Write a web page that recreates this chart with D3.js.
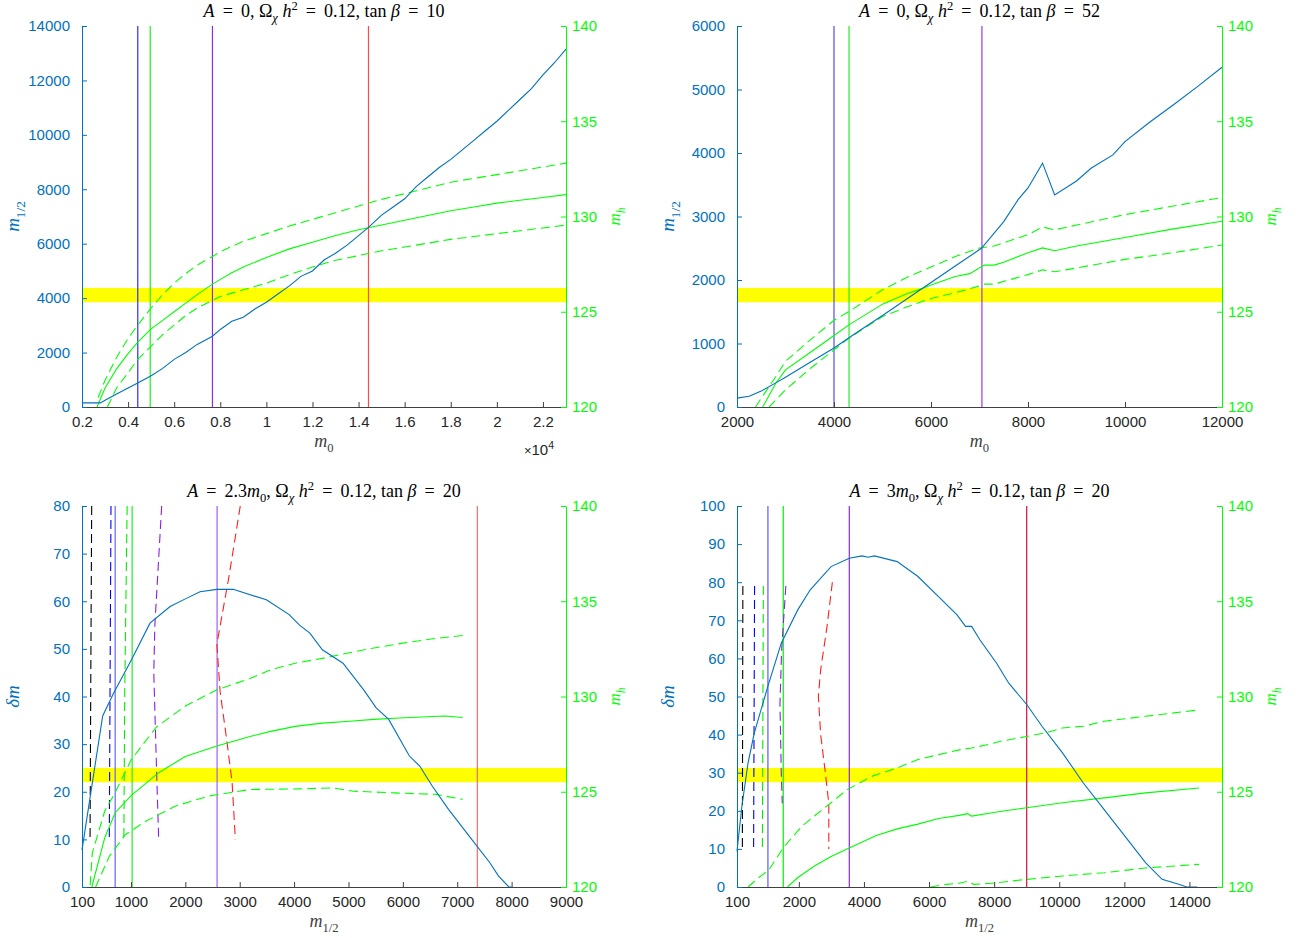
<!DOCTYPE html>
<html>
<head>
<meta charset="utf-8">
<script src="https://cdn.jsdelivr.net/npm/d3@7"></script>
<style>
  body { margin: 0; background: #fff; }
  text { font-family: "Liberation Sans", Arial, sans-serif; }
</style>
</head>
<body>
<svg id="chart" width="1298" height="938"></svg>
<script>
// ---- panel A: A=0, tan b = 10  (x = m0, left = m1/2, right = mh)
const aM12 = [[2000,150],[2800,150],[3000,250],[3500,480],[4000,700],[4420,880],[5000,1150],[5500,1420],[6000,1750],[6500,2000],[7000,2300],[7660,2600],[8000,2850],[8500,3150],[9000,3300],[9500,3600],[10000,3850],[10500,4150],[11000,4450],[11500,4800],[12000,5000],[12500,5400],[13000,5650],[13500,5950],[14000,6300],[14430,6600],[15000,7050],[15500,7350],[16000,7650],[16500,8100],[17000,8450],[17500,8800],[18000,9100],[18500,9450],[19000,9800],[19500,10150],[20000,10500],[20500,10900],[21000,11300],[21500,11700],[22000,12200],[22500,12650],[23000,13150]];
const aMh = [[2650,120],[3000,121.0],[3500,122.0],[4000,122.8],[4420,123.4],[5000,124.1],[5500,124.55],[6000,125.0],[6500,125.45],[7000,125.9],[7660,126.45],[8000,126.7],[8500,127.05],[9000,127.35],[10000,127.85],[11000,128.3],[12000,128.65],[13000,129.0],[14000,129.3],[15000,129.55],[16000,129.8],[17000,130.05],[18000,130.3],[19000,130.5],[20000,130.7],[21000,130.85],[22000,131.0],[23000,131.15]];
const aMhUp = [[2700,120.5],[3000,121.4],[3500,122.6],[4000,123.6],[4420,124.3],[5000,125.2],[5500,125.9],[6000,126.5],[6500,127.0],[7000,127.45],[7660,127.9],[8000,128.15],[9000,128.7],[10000,129.1],[11000,129.5],[12000,129.85],[13000,130.2],[14000,130.55],[15000,130.9],[16000,131.2],[17000,131.5],[18000,131.8],[19000,132.0],[20000,132.2],[21000,132.4],[22000,132.6],[23000,132.8]];
const aMhLo = [[3100,120],[3500,121.0],[4000,121.8],[4420,122.5],[5000,123.2],[5500,123.8],[6000,124.3],[6500,124.8],[7000,125.2],[7660,125.6],[8000,125.8],[9000,126.15],[10000,126.5],[11000,126.95],[12000,127.35],[13000,127.7],[14000,127.95],[15000,128.2],[16000,128.4],[17000,128.6],[18000,128.8],[19000,128.95],[20000,129.1],[21000,129.25],[22000,129.4],[23000,129.55]];
const aVerts = [4420, 4960, 7660, 14430];
const aXTicks = [2000,4000,6000,8000,10000,12000,14000,16000,18000,20000,22000];
const aYTicks = [0,2000,4000,6000,8000,10000,12000,14000];

// ---- panel B: A=0, tan b = 52
const bM12 = [[2000,140],[2250,170],[2500,250],[2800,380],[3000,470],[3500,700],[4000,930],[4500,1190],[5000,1440],[5500,1700],[6000,1960],[6500,2220],[7040,2500],[7500,2920],[7800,3270],[8000,3450],[8300,3840],[8550,3340],[9000,3560],[9300,3760],[9750,3970],[10000,4180],[10500,4480],[11000,4760],[11500,5050],[12000,5350]];
const bMh = [[2530,120],[2800,121.25],[3000,121.95],[3500,122.85],[4000,123.75],[4300,124.3],[5000,125.4],[5500,125.95],[5800,126.2],[6000,126.4],[6500,126.85],[6800,127.0],[7100,127.45],[7300,127.45],[7500,127.6],[8000,128.1],[8300,128.35],[8550,128.2],[9000,128.45],[10000,128.9],[11000,129.35],[12000,129.75]];
const bMhUp = [[2380,120],[2800,121.6],[3000,122.4],[3500,123.5],[4000,124.55],[4300,125.0],[5000,126.15],[5500,126.8],[6000,127.35],[6500,127.9],[7000,128.35],[7300,128.45],[8000,129.05],[8300,129.45],[8550,129.3],[9000,129.55],[10000,130.1],[11000,130.55],[12000,131.0]];
const bMhLo = [[2660,120],[3000,120.9],[3500,122.0],[4000,123.0],[4300,123.6],[5000,124.75],[5500,125.25],[6000,125.7],[6500,126.0],[7000,126.35],[7100,126.45],[7300,126.45],[8000,126.95],[8300,127.2],[8550,127.1],[9000,127.3],[10000,127.75],[11000,128.1],[12000,128.5]];
const bVerts = [4000, 4310, 7050];
const bXTicks = [2000,4000,6000,8000,10000,12000];
const bYTicks = [0,1000,2000,3000,4000,5000,6000];

// ---- panel C: A=2.3 m0, tan b = 20  (x = m1/2, left = delta m)
const cDm = [[100,7.8],[480,35.9],[680,40.7],[1010,47.7],[1350,55.4],[1720,58.9],[2000,60.5],[2270,62.0],[2580,62.5],[2880,62.5],[3490,60.3],[3910,57.2],[4100,55.0],[4290,53.3],[4520,49.8],[4900,47.0],[5280,41.4],[5510,37.6],[5740,35.2],[6120,27.5],[6310,25.4],[6540,21.2],[6840,16.3],[7220,10.7],[7600,5.1],[7760,2.3],[7950,0],[8000,0]];
const cMh = [[280,120],[520,122.6],[710,123.9],[1020,124.85],[1130,125.1],[1510,126.0],[2000,126.85],[2580,127.4],[3190,127.9],[3570,128.17],[4020,128.43],[4520,128.6],[5020,128.7],[5470,128.8],[5930,128.87],[6770,128.98],[7100,128.9]];
const cMhUp = [[250,120.1],[290,121.8],[520,124.0],[680,124.8],[1010,126.7],[1470,128.4],[2000,129.5],[2580,130.35],[3190,130.95],[3570,131.4],[4020,131.75],[4520,132.0],[5020,132.3],[5470,132.55],[6000,132.8],[6610,133.05],[7100,133.2]];
const cMhLo = [[350,120],[600,121.6],[900,122.76],[1280,123.46],[1810,124.24],[2420,124.77],[3190,125.12],[4100,125.15],[4710,125.2],[5090,125.03],[5850,124.94],[6610,124.86],[7100,124.6]];
const cDashBlack = [[278,80],[262,45],[248,10]];
const cDashBlue = [[633,80],[617,45],[602,10]];
const cDashGreen = [[930,80],[885,40],[870,10]];
const cDashPurple = [[1565,80],[1440,55],[1420,45],[1470,25],[1510,10]];
const cDashRed = [[3010,80],[2800,65],[2580,51],[2640,41],[2760,31],[2860,22],[2920,10]];
const cVerts = [710, 1022, 2584, 7370];
const cXTicks = [100,1000,2000,3000,4000,5000,6000,7000,8000,9000];
const cYTicks = [0,10,20,30,40,50,60,70,80];

// ---- panel D: A=3 m0, tan b = 20
const dDm = [[100,9.4],[250,21.2],[440,32.6],[630,40.4],[1050,52.7],[1460,64.0],[1970,72.8],[2350,78],[2990,84.1],[3550,86.3],[3940,86.9],[4130,86.55],[4320,86.9],[5020,85.4],[5660,81.5],[6290,76.2],[6860,71.4],[7120,68.4],[7310,68.4],[7560,64.9],[8070,58.8],[8450,53.5],[9000,47.9],[9470,42.2],[10100,35.2],[10740,27.3],[11380,20.3],[12010,13.4],[12650,6.4],[13160,2.0],[13670,0.7],[13920,0],[14240,0]];
const dMh = [[1650,120],[1970,120.5],[2480,121.1],[2990,121.6],[3550,122.05],[4380,122.7],[5020,123.05],[5660,123.3],[6290,123.6],[6930,123.76],[7180,123.85],[7310,123.72],[7940,123.9],[8330,124.0],[9000,124.16],[10100,124.42],[11380,124.68],[12650,124.94],[14300,125.2]];
const dMhUp = [[440,120],[700,120.4],[1080,120.9],[1520,122.06],[2100,123.2],[2730,124.07],[3490,125.12],[4260,125.82],[5020,126.25],[5660,126.69],[6290,126.95],[6930,127.2],[7310,127.3],[7820,127.48],[8200,127.65],[9000,127.9],[9600,128.1],[10100,128.35],[10740,128.44],[11380,128.7],[12650,128.96],[14300,129.3]];
const dMhLo = [[6040,120],[6550,120.14],[6930,120.2],[7180,120.3],[7370,120.14],[7940,120.2],[9000,120.4],[10100,120.58],[11380,120.75],[12650,121.0],[14300,121.19]];
const dDashBlack = [[280,79],[265,10]];
const dDashBlue = [[640,79],[610,10]];
const dDashGreen = [[910,79],[880,10]];
const dDashPurple = [[1600,79],[1470,62],[1420,48],[1460,30],[1490,22]];
const dDashRed = [[3030,80],[2860,68],[2670,57],[2600,50],[2670,40],[2800,31],[2920,22],[2920,10]];
const dVerts = [1050, 1520, 3550, 9000];
const dXTicks = [100,2000,4000,6000,8000,10000,12000,14000];
const dYTicks = [0,10,20,30,40,50,60,70,80,90,100];

const mhTicks = [120,125,130,135,140];
const mhBand = [125.5, 126.25];

const BLUE = "#0072bd", GREEN = "#00ff00", AXIS = "#404040";
const SERIF = "'Liberation Serif', 'DejaVu Serif', serif";
const svg = d3.select("#chart");

// rich text: parts are [text, style]; style has i (italic), sub, sup
function rich(sel, parts, size) {
    let off = 0;
    parts.forEach(([t, s]) => {
        const target = s.indexOf("sub") >= 0 ? size * 0.3 : s.indexOf("sup") >= 0 ? -size * 0.4 : 0;
        sel.append("tspan")
            .attr("dy", target - off)
            .attr("font-size", target !== 0 ? size * 0.7 : size)
            .attr("font-style", s.indexOf("i") >= 0 ? "italic" : "normal")
            .text(t);
        off = target;
    });
}

function drawPanel(p) {
    const w = p.w, h = 381;
    const g = svg.append("g").attr("transform", "translate(" + p.left + "," + p.top + ")");
    const x = d3.scaleLinear().domain(p.xDomain).range([0, w]);
    const yL = d3.scaleLinear().domain(p.yDomain).range([h, 0]);
    const yR = d3.scaleLinear().domain([120, 140]).range([h, 0]);

    // yellow Higgs band
    g.append("rect")
        .attr("x", 0).attr("width", w)
        .attr("y", yR(mhBand[1])).attr("height", yR(mhBand[0]) - yR(mhBand[1]))
        .attr("fill", "#ffff00");

    const lineL = d3.line().x(d => x(d[0])).y(d => yL(d[1]));
    const lineR = d3.line().x(d => x(d[0])).y(d => yR(d[1]));

    // vertical lines
    p.verts.forEach((v, i) => {
        g.append("line")
            .attr("x1", x(v)).attr("x2", x(v)).attr("y1", 0).attr("y2", h)
            .attr("stroke", p.vertColors[i]).attr("stroke-width", 1.2);
    });

    // dashed near-vertical curves
    (p.dashes || []).forEach(([pts, col]) => {
        g.append("path").attr("d", lineL(pts))
            .attr("fill", "none").attr("stroke", col).attr("stroke-width", 1.1)
            .attr("stroke-dasharray", "9,5");
    });

    // mh curves
    g.append("path").attr("d", lineR(p.mhUp)).attr("fill", "none")
        .attr("stroke", GREEN).attr("stroke-width", 1.1).attr("stroke-dasharray", "9,5");
    g.append("path").attr("d", lineR(p.mhLo)).attr("fill", "none")
        .attr("stroke", GREEN).attr("stroke-width", 1.1).attr("stroke-dasharray", "9,5");
    g.append("path").attr("d", lineR(p.mh)).attr("fill", "none")
        .attr("stroke", GREEN).attr("stroke-width", 1.1);

    // main blue curve
    g.append("path").attr("d", lineL(p.main)).attr("fill", "none")
        .attr("stroke", BLUE).attr("stroke-width", 1.1);

    // axes
    const ax = g.append("g").attr("transform", "translate(0," + h + ")")
        .call(d3.axisBottom(x).tickValues(p.xTicks).tickFormat(p.xFormat || d3.format("d"))
            .tickSizeInner(-5).tickSizeOuter(0).tickPadding(9));
    ax.select(".domain").attr("stroke", AXIS);
    ax.selectAll(".tick line").attr("stroke", AXIS);
    ax.selectAll("text").attr("fill", "#262626").attr("font-size", 15);

    const al = g.append("g")
        .call(d3.axisLeft(yL).tickValues(p.yTicks).tickFormat(d3.format("d"))
            .tickSizeInner(-5).tickSizeOuter(0).tickPadding(12));
    al.select(".domain").attr("stroke", BLUE);
    al.selectAll(".tick line").attr("stroke", BLUE);
    al.selectAll("text").attr("fill", BLUE).attr("font-size", 15);

    const ar = g.append("g").attr("transform", "translate(" + w + ",0)")
        .call(d3.axisRight(yR).tickValues(mhTicks).tickFormat(d3.format("d"))
            .tickSizeInner(-5).tickSizeOuter(0).tickPadding(6));
    ar.select(".domain").attr("stroke", GREEN);
    ar.selectAll(".tick line").attr("stroke", GREEN);
    ar.selectAll("text").attr("fill", GREEN).attr("font-size", 15);
    g.selectAll(".domain").attr("stroke-width", 1);

    // title
    const t = g.append("text").attr("x", w / 2).attr("y", -9)
        .attr("text-anchor", "middle").attr("fill", "#000")
        .style("font-family", SERIF);
    rich(t, p.title, 18);

    // x label
    const xl = g.append("text").attr("x", w / 2).attr("y", h + 40)
        .attr("text-anchor", "middle").attr("fill", "#404040")
        .style("font-family", SERIF);
    rich(xl, p.xLabel, 18);

    // left y label
    const yl = g.append("text").attr("transform", "translate(-63," + h / 2 + ") rotate(-90)")
        .attr("text-anchor", "middle").attr("fill", BLUE)
        .style("font-family", SERIF);
    rich(yl, p.yLabel, 19);

    // right y label
    const yr = g.append("text").attr("transform", "translate(" + (w + 54) + "," + h / 2 + ") rotate(-90)")
        .attr("text-anchor", "middle").attr("fill", GREEN)
        .style("font-family", SERIF);
    rich(yr, [["m", "i"], ["h", "subi"]], 17);

    if (p.exp) {
        const e = g.append("text").attr("x", w - 12).attr("y", h + 48)
            .attr("text-anchor", "end").attr("fill", "#262626");
        rich(e, [["\u00d7", ""], ["10", ""], ["4", "sup"]], 15);
        e.select("tspan").attr("font-size", 13);
    }
}

const m0Label = [["m", "i"], ["0", "sub"]];
const m12Label = [["m", "i"], ["1/2", "sub"]];
const dmLabel = [["\u03b4m", "i"]];
const sp = "\u2009";

drawPanel({
    left: 82, top: 26, w: 484,
    xDomain: [2000, 23000], yDomain: [0, 14000], xTicks: aXTicks, yTicks: aYTicks,
    xFormat: d => d3.format("~g")(d / 1e4), exp: true,
    main: aM12, mh: aMh, mhUp: aMhUp, mhLo: aMhLo,
    verts: aVerts, vertColors: ["#2d2dff", "#22ee22", "#8b2be2", "#ff4a4a"],
    title: [["A", "i"], [sp + " = " + sp + "0, \u03a9", ""], ["\u03c7", "subi"], [" h", "i"], ["2", "sup"], [sp + " = " + sp + "0.12, tan ", ""], ["\u03b2", "i"], [sp + " = " + sp + "10", ""]],
    xLabel: m0Label, yLabel: m12Label
});

drawPanel({
    left: 737, top: 26, w: 485,
    xDomain: [2000, 12000], yDomain: [0, 6000], xTicks: bXTicks, yTicks: bYTicks,
    main: bM12, mh: bMh, mhUp: bMhUp, mhLo: bMhLo,
    verts: bVerts, vertColors: ["#5050e8", "#22ee22", "#9a3be6"],
    title: [["A", "i"], [sp + " = " + sp + "0, \u03a9", ""], ["\u03c7", "subi"], [" h", "i"], ["2", "sup"], [sp + " = " + sp + "0.12, tan ", ""], ["\u03b2", "i"], [sp + " = " + sp + "52", ""]],
    xLabel: m0Label, yLabel: m12Label
});

drawPanel({
    left: 82, top: 506, w: 484,
    xDomain: [100, 9000], yDomain: [0, 80], xTicks: cXTicks, yTicks: cYTicks,
    main: cDm, mh: cMh, mhUp: cMhUp, mhLo: cMhLo,
    verts: cVerts, vertColors: ["#6464ff", "#22ee22", "#a060ee", "#ff6a6a"],
    dashes: [[cDashBlack, "#000"], [cDashBlue, "#0000ff"], [cDashGreen, "#00ee00"], [cDashPurple, "#8a1fe6"], [cDashRed, "#ff2020"]],
    title: [["A", "i"], [sp + " = " + sp + "2.3", ""], ["m", "i"], ["0", "sub"], [", \u03a9", ""], ["\u03c7", "subi"], [" h", "i"], ["2", "sup"], [sp + " = " + sp + "0.12, tan ", ""], ["\u03b2", "i"], [sp + " = " + sp + "20", ""]],
    xLabel: m12Label, yLabel: dmLabel
});

drawPanel({
    left: 737, top: 506, w: 485,
    xDomain: [100, 15000], yDomain: [0, 100], xTicks: dXTicks, yTicks: dYTicks,
    main: dDm, mh: dMh, mhUp: dMhUp, mhLo: dMhLo,
    verts: dVerts, vertColors: ["#5a5aff", "#00ee00", "#8b2be2", "#d0103a"],
    dashes: [[dDashBlack, "#000"], [dDashBlue, "#0000ff"], [dDashGreen, "#00ee00"], [dDashPurple, "#8a1fe6"], [dDashRed, "#ff2020"]],
    title: [["A", "i"], [sp + " = " + sp + "3", ""], ["m", "i"], ["0", "sub"], [", \u03a9", ""], ["\u03c7", "subi"], [" h", "i"], ["2", "sup"], [sp + " = " + sp + "0.12, tan ", ""], ["\u03b2", "i"], [sp + " = " + sp + "20", ""]],
    xLabel: m12Label, yLabel: dmLabel
});
</script>
</body>
</html>
